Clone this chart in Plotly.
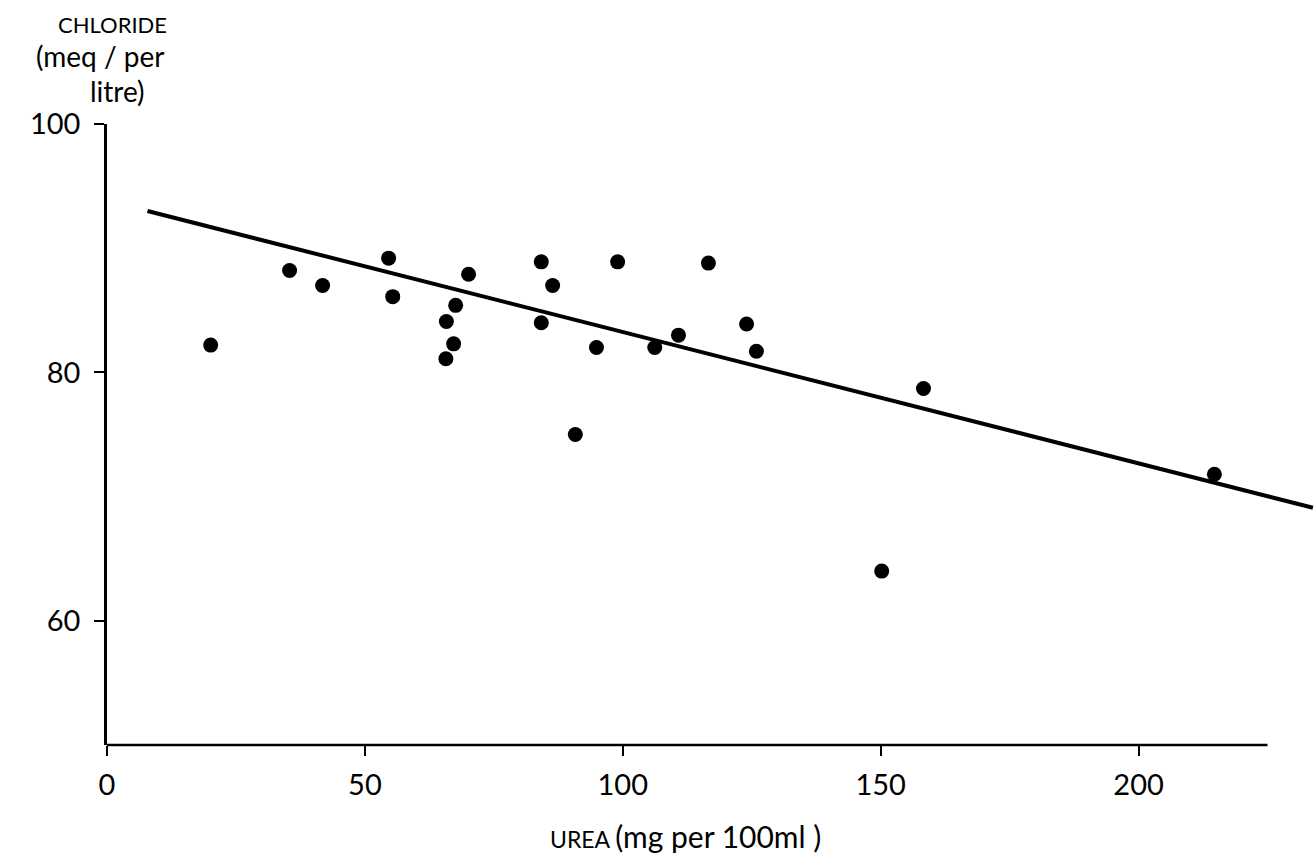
import plotly.graph_objects as go

# Urea vs chloride measurements
urea = [20.1, 35.4, 41.8, 54.6, 55.4, 70.1, 67.6, 65.8, 67.2, 65.7,
        84.2, 99.0, 116.6, 86.4, 84.2, 94.9, 106.2, 110.8, 124.0, 125.9,
        90.8, 158.3, 150.2, 214.7]
chloride = [82.2, 88.2, 87.0, 89.2, 86.1, 87.9, 85.4, 84.1, 82.3, 81.1,
            88.9, 88.9, 88.8, 87.0, 84.0, 82.0, 82.0, 83.0, 83.9, 81.7,
            75.0, 78.7, 64.0, 71.8]

# Fitted regression line end points
fit_x = [7.85, 233.8]
fit_y = [93.0, 69.1]

x_ticks = [0, 50, 100, 150, 200]
y_ticks = [60, 80, 100]

FONT = "Lato, 'Open Sans', sans-serif"
INK = "#000000"

fig = go.Figure()

fig.add_trace(go.Scatter(
    x=fit_x, y=fit_y, mode="lines",
    line=dict(color=INK, width=4),
    hoverinfo="skip", showlegend=False,
))

fig.add_trace(go.Scatter(
    x=urea, y=chloride, mode="markers",
    marker=dict(color=INK, size=15, line=dict(width=0)),
    showlegend=False,
))

# x-axis baseline stops short of the right edge
fig.add_shape(type="line", xref="x", yref="paper",
              x0=0, x1=225, y0=0, y1=0,
              line=dict(color=INK, width=2.5))

fig.update_xaxes(
    range=[0, 234.4], showgrid=False, zeroline=False, showline=False,
    tickvals=x_ticks, ticktext=[str(v) for v in x_ticks],
    ticks="outside", ticklen=10, tickwidth=2, tickcolor=INK,
    tickfont=dict(family=FONT, size=29, color=INK),
    ticklabelstandoff=4,
)
fig.update_yaxes(
    range=[50, 100], showgrid=False, zeroline=False,
    showline=True, linecolor=INK, linewidth=2.5,
    tickvals=y_ticks, ticktext=[str(v) for v in y_ticks],
    ticks="outside", ticklen=10, tickwidth=2, tickcolor=INK,
    tickfont=dict(family=FONT, size=29, color=INK),
    ticklabelstandoff=8,
)

# Axis titles drawn as annotations, positioned in pixels from the plot corner
def label(text, px, py, size):
    fig.add_annotation(
        text=text, xref="paper", yref="paper", x=0, y=1,
        xshift=px - 107, yshift=124 - py,
        xanchor="center", yanchor="middle", showarrow=False,
        font=dict(family=FONT, size=size, color=INK),
    )

label("CHLORIDE", 112, 24, 22)
label("(meq / per", 100, 56, 28)
label("litre)", 117, 91, 28)

fig.add_annotation(
    text='<span style="font-size:23px">UREA </span>(mg per 100ml )',
    xref="paper", yref="paper", x=0, y=0,
    xshift=685 - 107, yshift=745 - 836,
    xanchor="center", yanchor="middle", showarrow=False,
    font=dict(family=FONT, size=30, color=INK),
)

fig.update_layout(
    width=1316, height=859,
    margin=dict(l=107, r=0, t=124, b=114),
    paper_bgcolor="white", plot_bgcolor="white",
    showlegend=False,
)

fig.write_html("out.html")
